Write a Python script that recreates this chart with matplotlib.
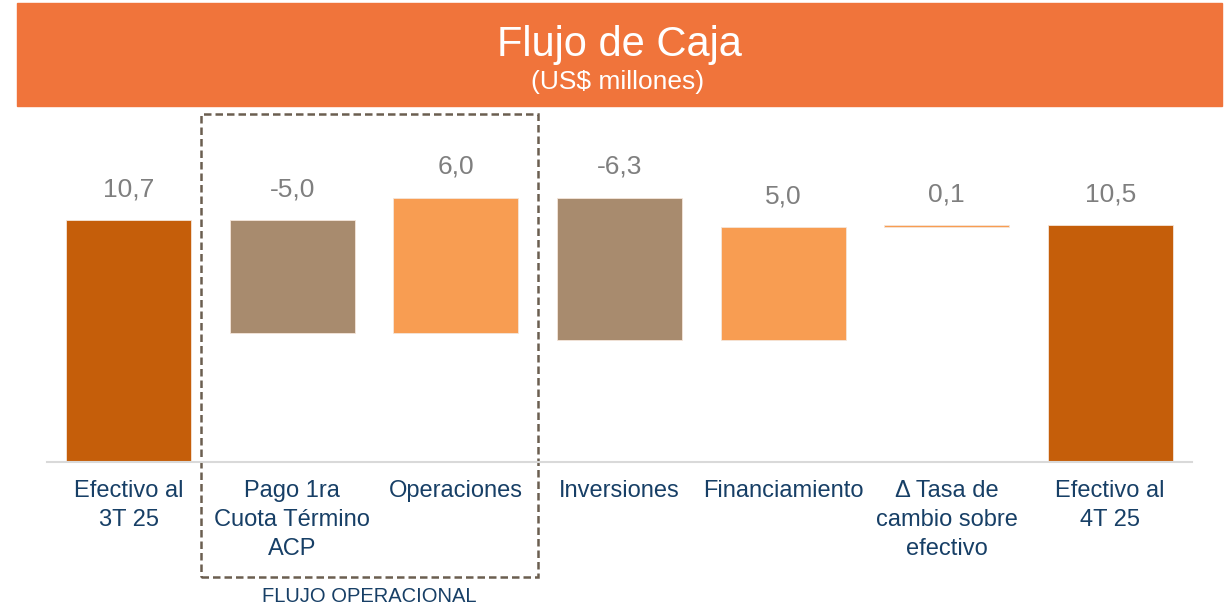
import numpy as np
import matplotlib
matplotlib.use("Agg")
import matplotlib.pyplot as plt
from matplotlib.patches import Rectangle

# datos del grafico (US$ millones)
categorias = ["Efectivo al\n3T 25", "Pago 1ra\nCuota Término\nACP", "Operaciones",
              "Inversiones", "Financiamiento", "Δ Tasa de\ncambio sobre\nefectivo",
              "Efectivo al\n4T 25"]
valores = [10.7, -5.0, 6.0, -6.3, 5.0, 0.1, 10.5]
tipos = ["total", "neg", "pos", "neg", "pos", "pos", "total"]
etiquetas = ["10,7", "-5,0", "6,0", "-6,3", "5,0", "0,1", "10,5"]

colores = {"total": "#C55E0A", "neg": "#A88B6E", "pos": "#F89D52"}
gris_label = "#7F7F7F"
azul = "#173F66"

plt.rcParams["font.family"] = ["Liberation Sans", "DejaVu Sans"]


def main():
    fig = plt.figure(figsize=(12.27, 6.07), dpi=100)
    ax = fig.add_axes([47 / 1227, 145 / 607, 1145 / 1227, 342 / 607])

    # calcular bases del waterfall
    bases, alturas = [], []
    acum = 0.0
    for v, t in zip(valores, tipos):
        if t == "total":
            bases.append(0.0)
            alturas.append(v)
            acum = v
        else:
            nuevo = acum + v
            bases.append(min(acum, nuevo))
            alturas.append(abs(v))
            acum = nuevo

    x = np.arange(len(categorias))
    ax.bar(x, alturas, bottom=bases, width=0.765,
           color=[colores[t] for t in tipos], edgecolor="#F5E6DA", linewidth=0.6)

    for xi, b, h, lab in zip(x, bases, alturas, etiquetas):
        ax.annotate(lab, (xi, b + h), xytext=(0, 17), textcoords="offset points",
                    ha="center", va="baseline", fontsize=19, color=gris_label)

    ax.set_xlim(-0.5, len(categorias) - 0.5)
    ax.set_ylim(0, 342 / 22.6)
    ax.set_yticks([])
    ax.set_xticks(x)
    ax.set_xticklabels(categorias, fontsize=17, color=azul, linespacing=1.4)
    ax.tick_params(axis="x", length=0, pad=13)
    for s in ["top", "left", "right"]:
        ax.spines[s].set_visible(False)
    ax.spines["bottom"].set_color("#D9D9D9")
    ax.spines["bottom"].set_linewidth(1.5)

    # caja punteada del flujo operacional
    trans = ax.get_xaxis_transform()
    caja = Rectangle((0.44, -0.336), 2.06, 1.0175 + 0.336, transform=trans,
                     fill=False, edgecolor="#6B5E50", linewidth=1.8,
                     linestyle=(0, (3, 1.6)), clip_on=False)
    ax.add_patch(caja)
    ax.text(1.47, -0.392, "FLUJO OPERACIONAL", transform=trans, ha="center",
            va="center", fontsize=14.5, color=azul)

    # banda del titulo
    fig.patches.append(Rectangle((17 / 1227, 501 / 607), 1205 / 1227, 103 / 607,
                                 transform=fig.transFigure, color="#F0743B",
                                 zorder=0))
    fig.text(619 / 1227, 1 - 45 / 607, "Flujo de Caja", ha="center", va="center",
             fontsize=30, color="white")
    fig.text(618 / 1227, 1 - 82 / 607, "(US$ millones)", ha="center", va="center",
             fontsize=19, color="white")

    fig.savefig("out.png", dpi=100)
    plt.close(fig)


if __name__ == "__main__":
    main()
